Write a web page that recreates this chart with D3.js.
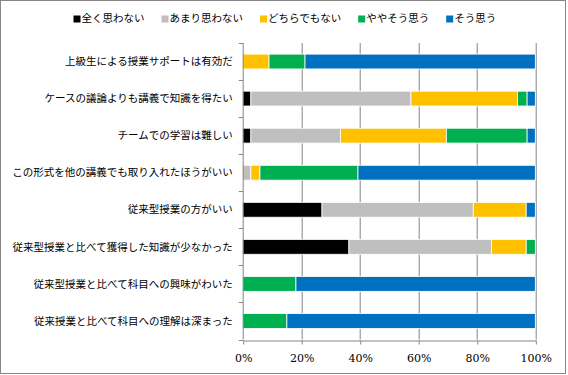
<!DOCTYPE html>
<html lang="ja">
<head>
  <meta charset="UTF-8">
  <title>授業アンケート</title>
  <script src="https://d3js.org/d3.v7.min.js"></script>
  <style>
    body { margin: 0; background: #fff; }
    .cat { font-family: "Noto Sans CJK JP", sans-serif; font-size: 10.5px; fill: #000; }
    .leg { font-family: "Noto Sans CJK JP", sans-serif; font-size: 10.5px; fill: #000; }
    .x.axis text { font-family: "DejaVu Serif", serif; font-size: 11px; fill: #000; }
    .x.axis line, .x.axis path { stroke: #868686; }
    .grid line { stroke: #868686; }
  </style>
</head>
<body>
  <div id="chart"></div>
  <script>
    // question labels, top to bottom
    const categories = [
      "上級生による授業サポートは有効だ",
      "ケースの議論よりも講義で知識を得たい",
      "チームでの学習は難しい",
      "この形式を他の講義でも取り入れたほうがいい",
      "従来型授業の方がいい",
      "従来型授業と比べて獲得した知識が少なかった",
      "従来型授業と比べて科目への興味がわいた",
      "従来授業と比べて科目への理解は深まった"
    ];
    const seriesNames = ["全く思わない", "あまり思わない", "どちらでもない", "ややそう思う", "そう思う"];
    const colors = ["#000000", "#bfbfbf", "#ffc000", "#00b050", "#0070c0"];

    // percentages per answer, one value per question
    const zenku   = [0, 2.8, 2.8, 0, 27.1, 36.3, 0, 0];
    const amari   = [0, 54.7, 30.6, 2.8, 51.7, 48.7, 0, 0];
    const dochira = [9.0, 36.4, 36.2, 3.1, 18.1, 11.9, 0, 0];
    const yaya    = [12.3, 3.3, 27.6, 33.5, 0, 3.1, 18.2, 15.1];
    const sou     = [78.7, 2.8, 2.8, 60.6, 3.1, 0, 81.8, 84.9];
    const xTicks = [0, 20, 40, 60, 80, 100];

    const W = 568, H = 375;
    const margin = { top: 43, right: 32.7, bottom: 35.5, left: 242.7 },
          width = W - margin.left - margin.right,
          height = H - margin.top - margin.bottom;

    const svg = d3.select("#chart").append("svg")
      .attr("width", W).attr("height", H);

    // outer frame
    svg.append("rect")
      .attr("x", 0.5).attr("y", 0.5)
      .attr("width", 565).attr("height", 373)
      .attr("fill", "#fff").attr("stroke", "#868686");

    const g = svg.append("g")
      .attr("transform", `translate(${margin.left},${margin.top})`);

    const rows = categories.map((c, i) => ({
      cat: c,
      [seriesNames[0]]: zenku[i],
      [seriesNames[1]]: amari[i],
      [seriesNames[2]]: dochira[i],
      [seriesNames[3]]: yaya[i],
      [seriesNames[4]]: sou[i]
    }));

    const x = d3.scaleLinear().domain([0, 100]).range([0, width]);
    const y = d3.scaleBand().domain(categories).range([0, height])
      .paddingInner(0.6).paddingOuter(0.3);

    // vertical gridlines
    g.append("g").attr("class", "grid")
      .selectAll("line").data(xTicks.slice(1)).enter().append("line")
      .attr("x1", d => Math.round(x(d)) + 0.5).attr("x2", d => Math.round(x(d)) + 0.5)
      .attr("y1", 0).attr("y2", height);

    // stacked bars
    const stacked = d3.stack().keys(seriesNames)(rows);
    g.selectAll(".series").data(stacked).enter().append("g")
      .attr("fill", (d, i) => colors[i])
      .selectAll("rect").data(d => d).enter().append("rect")
      .filter(d => d[1] - d[0] > 0)
      .attr("x", d => x(d[0]))
      .attr("y", d => y(d.data.cat))
      .attr("width", d => x(d[1]) - x(d[0]))
      .attr("height", y.bandwidth())
      .attr("stroke", "#fff")
      .attr("stroke-width", 0.8);

    // left axis line with ticks at band boundaries
    g.append("line")
      .attr("x1", 0.5).attr("x2", 0.5).attr("y1", 0).attr("y2", height)
      .attr("stroke", "#868686");
    g.selectAll(".ytick").data(d3.range(categories.length + 1)).enter().append("line")
      .attr("x1", -4).attr("x2", 0.5)
      .attr("y1", i => Math.round(i * y.step()) + 0.5)
      .attr("y2", i => Math.round(i * y.step()) + 0.5)
      .attr("stroke", "#868686");

    // category labels
    g.selectAll(".cat").data(categories).enter().append("text")
      .attr("class", "cat")
      .attr("x", -10)
      .attr("y", d => y(d) + y.bandwidth() / 2)
      .attr("dy", "0.35em")
      .attr("text-anchor", "end")
      .text(d => d);

    // bottom axis
    g.append("g").attr("class", "x axis")
      .attr("transform", `translate(0.5,${Math.round(height) + 0.5})`)
      .call(d3.axisBottom(x).tickValues(xTicks).tickSize(4).tickSizeOuter(0)
        .tickPadding(10).tickFormat(d => d + "%"));

    // legend
    const leg = svg.append("g");
    let lx = 73.5;
    seriesNames.forEach((name, i) => {
      leg.append("rect")
        .attr("x", lx).attr("y", 15.5).attr("width", 7).attr("height", 7)
        .attr("fill", colors[i]);
      const t = leg.append("text").attr("class", "leg")
        .attr("x", lx + 8).attr("y", 22).text(name);
      lx += 8 + t.node().getComputedTextLength() + 17;
    });
  </script>
</body>
</html>
